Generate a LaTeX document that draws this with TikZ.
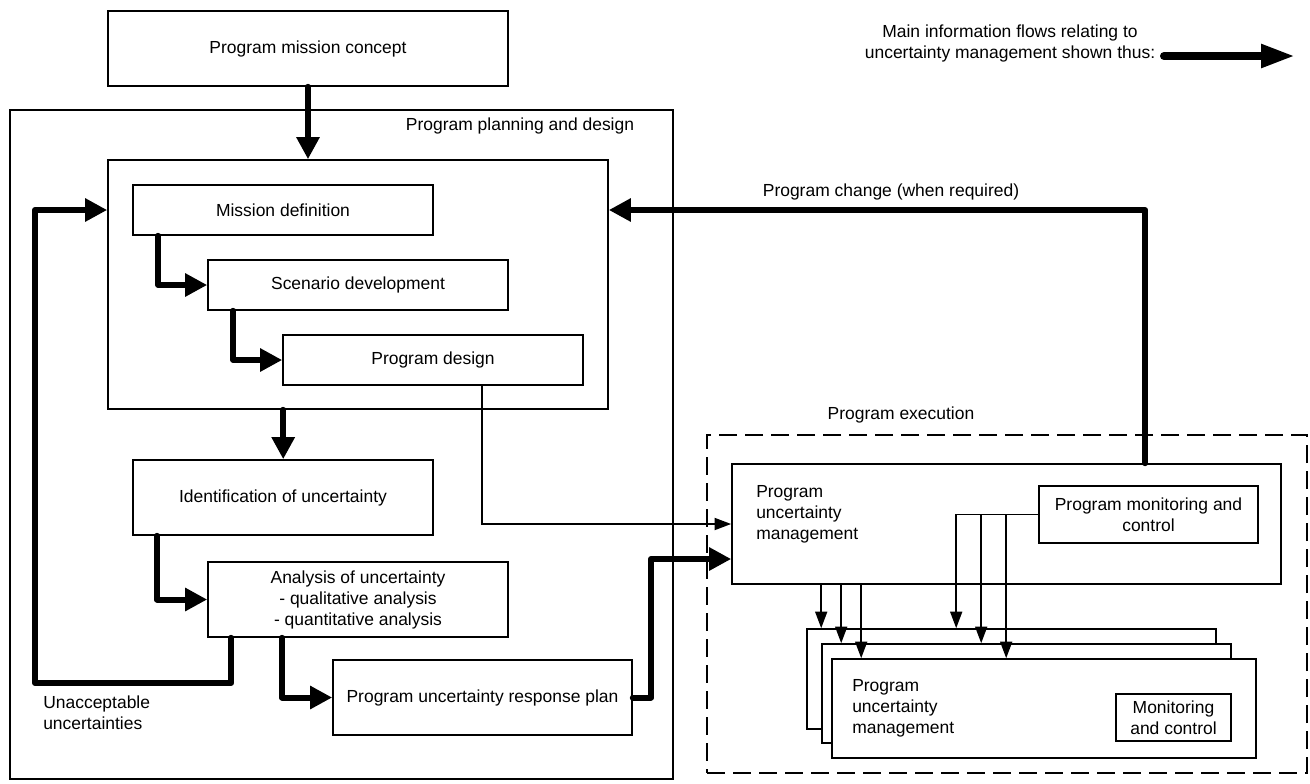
\documentclass[tikz,border=0pt]{standalone}
\usepackage{fontspec}
\setmainfont{Liberation Sans}
\usetikzlibrary{arrows.meta,calc}
\begin{document}
\begin{tikzpicture}[x=0.75pt,y=-0.75pt,
  every node/.style={font=\fontsize{13.1pt}{15.75pt}\selectfont},
  box/.style={draw, line width=1.2pt, inner sep=0pt, fill=white, align=center},
  lbl/.style={inner sep=0pt, align=center},
  flow/.style={line width=4.5pt, line cap=round, line join=round, -{Triangle[length=16.5pt,width=16.5pt]}},
  legflow/.style={line width=6pt, line cap=round, -{Triangle[length=25.5pt,width=16.5pt]}},
  thinflow/.style={line width=1.4pt, -{Triangle[length=12.5pt,width=9pt]}},
  dashbox/.style={draw, line width=1.5pt, dash pattern=on 13.5pt off 6pt, inner sep=0pt}]
\useasboundingbox (0,0) rectangle (1310,783);

% boxes
\node[box, minimum width=300pt, minimum height=56.25pt] (mc) at (308,48.5) {Program mission concept};
\node[box, minimum width=497.25pt, minimum height=501.75pt] (plan) at (341.5,444.5) {};
\node[box, minimum width=375pt, minimum height=186.75pt] (inner) at (358,284.5) {};
\node[box, minimum width=225pt, minimum height=37.5pt] (md) at (283,210) {Mission definition};
\node[box, minimum width=225pt, minimum height=37.5pt] (sd) at (358,285) {Scenario development};
\node[box, minimum width=225pt, minimum height=37.5pt] (pd) at (433,360) {Program design};
\node[box, minimum width=225pt, minimum height=56.25pt] (iu) at (283,497.5) {Identification of uncertainty};
\node[box, minimum width=225pt, minimum height=56.25pt] (au) at (358,599.5) {Analysis of uncertainty\\- qualitative analysis\\- quantitative analysis};
\node[box, minimum width=224.25pt, minimum height=56.25pt] (rp) at (482.5,697.5) {Program uncertainty response plan};

\node[dashbox, minimum width=450pt, minimum height=253.5pt] (ex) at (1007,604) {};
\node[box, minimum width=411.75pt, minimum height=90pt] (pum) at (1006.5,524) {};
\node[box, minimum width=164.25pt, minimum height=42.75pt] (pmc) at (1148.5,514.5) {Program monitoring and\\control};
\node[box, minimum width=306.75pt, minimum height=75pt] (b1) at (1011.5,679) {};
\node[box, minimum width=306.75pt, minimum height=74.25pt] (b2) at (1026.5,693.5) {};
\node[box, minimum width=318pt, minimum height=74.25pt] (fr) at (1044,708.5) {};
\node[box, minimum width=86.25pt, minimum height=35.25pt] (mon) at (1173.5,717.5) {Monitoring\\and control};

% labels
\node[lbl] (plantxt) at (520,126) {Program planning and design};
\node[lbl] (extxt) at (901,415) {Program execution};
\node[lbl] (chg) at (891,192) {Program change (when required)};
\node[lbl, align=left, anchor=west] (unacc) at (43,712.5) {Unacceptable\\uncertainties};
\node[lbl, align=left, anchor=west] (pumtxt) at (756,514) {Program\\uncertainty\\management};
\node[lbl, align=left, anchor=west] (frtxt) at (852,708) {Program\\uncertainty\\management};
\node[lbl] (legtxt) at (1010,43) {Main information flows relating to\\uncertainty management shown thus:};

% legend arrow
\coordinate (legS) at (1164,56);
\coordinate (legE) at (1295,56);
\draw[legflow] (legS) -- (legE);

% thick flows
\draw[flow] (mc.south) -- (mc.south |- inner.north);
\draw[flow] ($(md.south west)+(26,0)$) |- (sd.west);
\draw[flow] ($(sd.south west)+(26,0)$) |- (pd.west);
\draw[flow] ($(inner.south west)+(176,0)$) coordinate (a4) -- (a4 |- iu.north);
\draw[flow] ($(iu.south west)+(25,0)$) |- (au.west);
\draw[flow] ($(au.south west)+(75,0)$) |- (rp.west);
\coordinate (loopL) at (35,683);
\draw[flow] ($(au.south west)+(24,0)$) |- (loopL) |- (inner.west |- md.west);
\coordinate (rpC) at (651,559);
\draw[flow] (rp.east) -| (rpC) -- (rpC -| pum.west);
\draw[flow] ($(pum.north west)+(414,0)$) |- (inner.east |- md.east);

% thin flows
\draw[thinflow] ($(pd.south west)+(200,0)$) |- (pum.west);
\draw[thinflow] ($(pum.south west)+(90,0)$) coordinate (t1) -- (t1 |- b1.north);
\draw[thinflow] ($(pum.south west)+(110,0)$) coordinate (t2) -- (t2 |- b2.north);
\draw[thinflow] ($(pum.south west)+(130,0)$) coordinate (t3) -- (t3 |- fr.north);
\draw[thinflow] (pmc.west) -| ($(b1.north west)+(150,0)$);
\draw[thinflow] (pmc.west) -| ($(b2.north west)+(160,0)$);
\draw[thinflow] (pmc.west) -| ($(fr.north west)+(175,0)$);
\end{tikzpicture}
\end{document}
